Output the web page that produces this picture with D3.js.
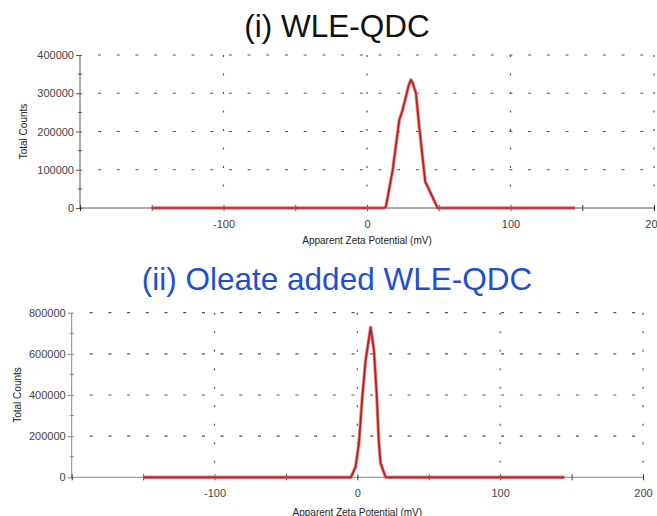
<!DOCTYPE html>
<html><head><meta charset="utf-8">
<script src="https://cdn.jsdelivr.net/npm/d3@7"></script>
<style>
html,body{margin:0;padding:0;background:#fff;}
svg{display:block;font-family:"Liberation Sans",Arial,sans-serif;}
</style></head><body>
<svg id="c" width="657" height="516"></svg>
<script>
// ---- data ----
const titles = ["(i) WLE-QDC", "(ii) Oleate added WLE-QDC"];
const xTickValues = [-100, 0, 100, 200];
const xMinorTicks = [-200, -150, -100, -50, 0, 50, 100, 150, 200];
const yTicksTop = [0, 100000, 200000, 300000, 400000];
const yMinorTop = [50000, 150000, 250000, 350000];
const yTicksBottom = [0, 200000, 400000, 600000, 800000];
const yMinorBottom = [100000, 300000, 500000, 700000];

const xTop = [-150, 12, 13.2, 17.9, 22.5, 24.8, 29, 30.6, 32, 34.1, 36.4, 40.6, 44.5, 49.2, 145];
const yTop = [0, 0, 3400, 99000, 230000, 256000, 320000, 335000, 325000, 300000, 212000, 68800, 38000, 0, 0];

const xBottom = [-150, -4.5, -1.2, 1.1, 3.5, 5.8, 9.3, 11.6, 13.5, 15.1, 16.3, 19.8, 145];
const yBottom = [0, 0, 51500, 165000, 392000, 570000, 729000, 619000, 408000, 165000, 68000, 0, 0];

const svg = d3.select("#c");

function panel(cfg){
  const x = d3.scaleLinear().domain([-200, 200]).range([cfg.left, cfg.right]);
  const y = d3.scaleLinear().domain([0, cfg.ymax]).range([cfg.bottom, cfg.top]);
  const g = svg.append("g");

  // horizontal dashed grid
  g.selectAll(".hg").data(cfg.yTicks.filter(d => d > 0)).enter().append("line")
    .attr("x1", cfg.left + 18).attr("x2", cfg.right)
    .attr("y1", d => y(d)).attr("y2", d => y(d))
    .attr("stroke", "#555").attr("stroke-width", 1.2)
    .attr("stroke-dasharray", "3,15.7");
  // vertical dotted grid
  g.selectAll(".vg").data(xTickValues).enter().append("line")
    .attr("x1", d => x(d)).attr("x2", d => x(d))
    .attr("y1", cfg.top).attr("y2", cfg.bottom - 8)
    .attr("stroke", "#555").attr("stroke-width", 1.2)
    .attr("stroke-dasharray", "2,16.5");

  // y axis
  const ya = d3.axisLeft(y).tickValues(cfg.yTicks).tickFormat(d3.format("d")).tickSize(4).tickPadding(2);
  const yg = g.append("g").attr("transform", `translate(${cfg.left},0)`).call(ya);
  yg.select(".domain").attr("stroke", cfg.axisColor).attr("d", `M0,${cfg.top}V${cfg.bottom}`);
  yg.selectAll(".tick line").attr("stroke", cfg.axisColor).attr("x2", -4).attr("x1", 2);
  yg.selectAll("text").attr("font-size", 11).attr("fill", "#444")
    .attr("font-family", "Liberation Sans, Arial, sans-serif");
  g.selectAll(".ym").data(cfg.yMinor).enter().append("line")
    .attr("x1", cfg.left - 2).attr("x2", cfg.left + 2)
    .attr("y1", d => y(d)).attr("y2", d => y(d)).attr("stroke", cfg.axisColor);

  // x axis
  const xa = d3.axisBottom(x).tickValues(xMinorTicks).tickSize(0)
    .tickFormat(d => xTickValues.includes(d) ? d3.format("d")(d).replace("−","-") : "").tickPadding(12);
  const xg = g.append("g").attr("transform", `translate(0,${cfg.bottom})`).call(xa);
  xg.select(".domain").attr("stroke", cfg.axisColor).attr("d", `M${cfg.left},0H${cfg.right}`);
  xg.selectAll(".tick line").attr("stroke", "#333").attr("y1", -3).attr("y2", 3);
  xg.selectAll("text").attr("font-size", 11).attr("fill", "#444")
    .attr("font-family", "Liberation Sans, Arial, sans-serif");

  // data line
  const pts = cfg.xs.map((v, i) => [v, cfg.ys[i]]);
  const line = d3.line().x(d => x(d[0])).y(d => y(d[1]));
  g.append("path").attr("d", line(pts)).attr("fill", "none")
    .attr("stroke", "#e68a8a").attr("stroke-width", 3.4).attr("stroke-linejoin", "round");
  g.append("path").attr("d", line(pts)).attr("fill", "none")
    .attr("stroke", "#b51d24").attr("stroke-width", 1.7).attr("stroke-linejoin", "round");

  // axis titles
  g.append("text").attr("x", (cfg.left + cfg.right) / 2).attr("y", cfg.xlabelY)
    .attr("text-anchor", "middle").attr("font-size", 10).attr("fill", "#222")
    .text("Apparent Zeta Potential (mV)");
  g.append("text").attr("transform", `translate(${cfg.ylabelX},${(cfg.top + cfg.bottom) / 2}) rotate(-90)`)
    .attr("text-anchor", "middle").attr("dy", "0.35em").attr("font-size", 10).attr("fill", "#222")
    .text("Total Counts");

  // panel title
  svg.append("text").attr("x", 337).attr("y", cfg.titleY).attr("text-anchor", "middle")
    .attr("font-size", 31.5).attr("fill", cfg.titleColor).text(cfg.title);
}

panel({left: 80, right: 654, top: 55, bottom: 208, ymax: 400000,
  yTicks: yTicksTop, yMinor: yMinorTop, xs: xTop, ys: yTop,
  axisColor: "#555", xlabelY: 244, ylabelX: 23, titleY: 37, title: titles[0], titleColor: "#111"});
panel({left: 71.7, right: 643, top: 312.7, bottom: 477.3, ymax: 800000,
  yTicks: yTicksBottom, yMinor: yMinorBottom, xs: xBottom, ys: yBottom,
  axisColor: "#888", xlabelY: 515.5, ylabelX: 17, titleY: 290, title: titles[1], titleColor: "#1f4fd0"});
</script>
</body></html>
